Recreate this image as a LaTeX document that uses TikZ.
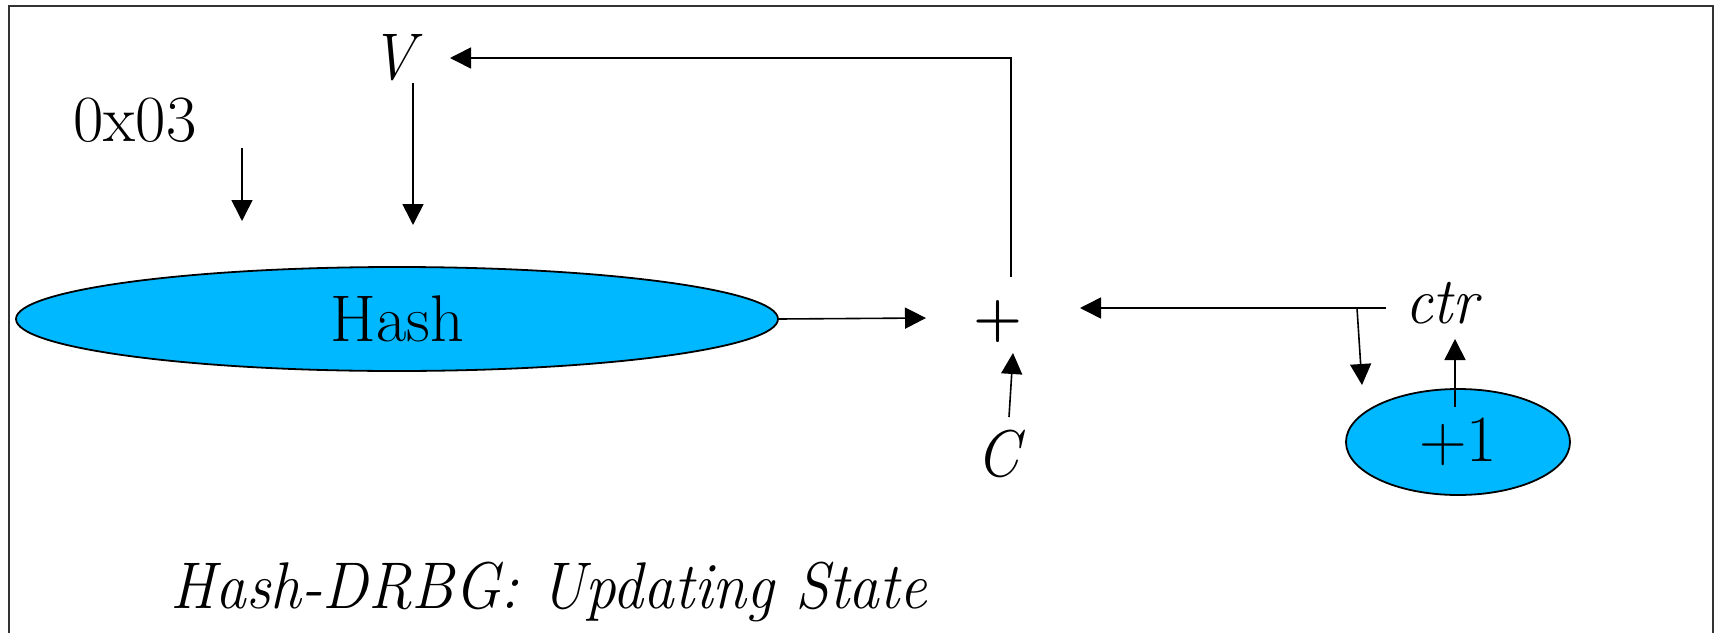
\documentclass[tikz,border=0pt]{standalone}
\usepackage{fontspec}
\usetikzlibrary{arrows.meta,shapes.geometric}
\definecolor{fillblue}{RGB}{0,184,255}
\definecolor{framegray}{RGB}{50,50,50}
\tikzset{
  lbl/.style={inner sep=0pt, font=\fontsize{66}{68}\selectfont},
  ilbl/.style={inner sep=0pt, xscale=0.93, font=\itshape\fontsize{66}{68}\selectfont},
  blob/.style={ellipse, draw=black, line width=1.8pt, fill=fillblue, inner sep=0pt, font=\fontsize{66}{68}\selectfont},
  conn/.style={line width=1.6pt, -{Triangle[length=21pt,width=21pt]}},
}
\begin{document}
\begin{tikzpicture}[x=1pt,y=-1pt]
\useasboundingbox (0,0) rectangle (1719,632);
\draw[framegray, line width=2.2pt] (9,660) -- (9,6) -- (1713,6) -- (1713,660);
% nodes
\node[ilbl] (V) at (393,58) {V};
\node[lbl] (hex) at (135,120) {0x03};
\node[blob, minimum width=762pt, minimum height=104pt] (hash) at (397,319) {Hash};
\node[inner sep=0pt, font=\bfseries\fontsize{56}{58}\selectfont] (plus) at (998,322) {+};
\node[ilbl, anchor=base west] (ctr) at (1405,323) {ctr};
\node[blob, minimum width=224pt, minimum height=106pt] (inc) at (1458,442) {+1};
\node[ilbl] (C) at (998,454) {C};
\node[ilbl, anchor=base] (title) at (549,608) {Hash-DRBG: Updating State};
% coordinates
\coordinate (pTop) at (1011,277);
\coordinate (Vin) at (450,58);
\coordinate (hexS) at (242,148);
\coordinate (hexE) at (242,221);
\coordinate (VS) at (413,83);
\coordinate (VE) at (413,225);
\coordinate (hashE) at (926,318);
\coordinate (ctrS) at (1386,308);
\coordinate (plusR) at (1080,308);
\coordinate (br) at (1357,308);
\coordinate (brE) at (1362,385);
\coordinate (incS) at (1455,407);
\coordinate (incE) at (1455,339);
\coordinate (CS) at (1009,417);
\coordinate (CE) at (1013,353);
% connectors
\draw[conn] (pTop) |- (Vin);
\draw[conn] (hexS) -- (hexE);
\draw[conn] (VS) -- (VE);
\draw[conn] (hash.east) -- (hashE);
\draw[conn] (ctrS) -- (plusR);
\draw[conn] (br) -- (brE);
\draw[conn] (incS) -- (incE);
\draw[conn] (CS) -- (CE);
\end{tikzpicture}
\end{document}
